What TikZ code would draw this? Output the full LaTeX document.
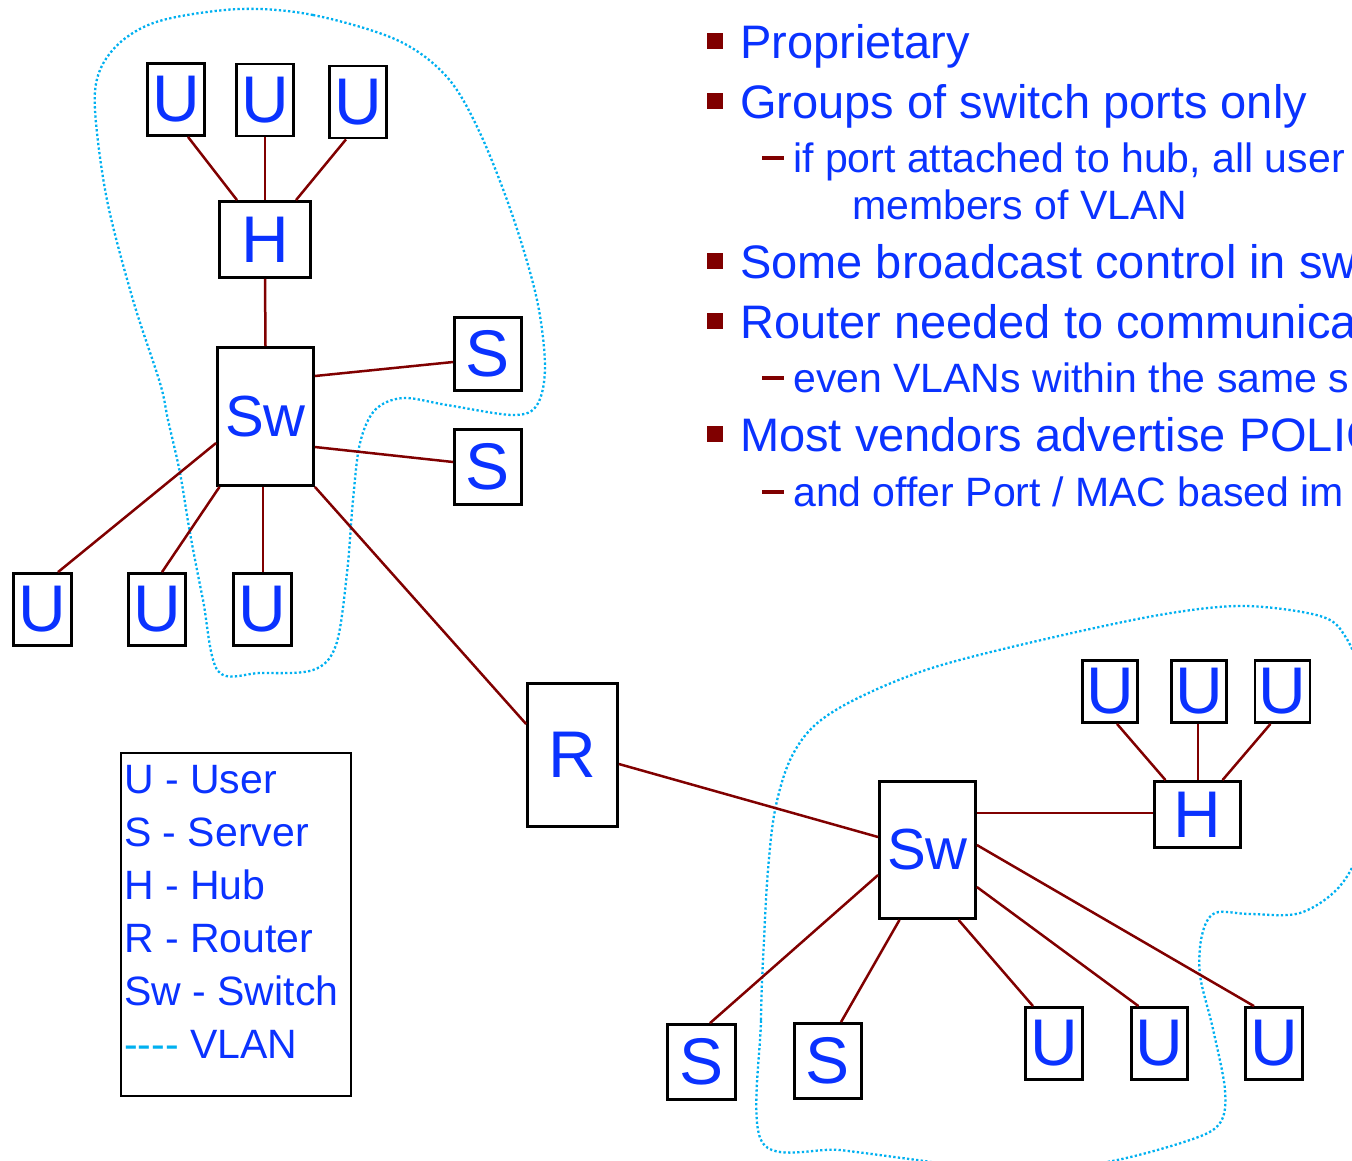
\documentclass[tikz,border=0pt]{standalone}
\usepackage{fontspec}
\setmainfont{Liberation Sans}
\usetikzlibrary{calc}
\definecolor{txtblue}{RGB}{10,50,255}
\definecolor{linkred}{RGB}{128,0,0}
\definecolor{vlancyan}{RGB}{0,176,240}
\tikzset{
  dev/.style 2 args={draw=black, line width=2.8pt, fill=white, inner sep=0pt,
    text=txtblue, minimum width=#1pt, minimum height=#2pt,
    font=\fontsize{66}{66}\selectfont},
  swfont/.style={font=\fontsize{58}{58}\selectfont},
  link/.style={draw=linkred, line width=2.5pt},
  vlan/.style={draw=vlancyan, line width=2.3pt, dash pattern=on 2.3pt off 2.3pt},
  mainitem/.style={anchor=base west, inner sep=0pt, text=txtblue,
    font=\fontsize{47}{47}\selectfont},
  subitem/.style={anchor=base west, inner sep=0pt, text=txtblue,
    font=\fontsize{41}{41}\selectfont},
  legitem/.style={anchor=base west, inner sep=0pt, text=txtblue,
    font=\fontsize{41}{41}\selectfont},
  sqmark/.style={fill=linkred, draw=none, minimum size=16pt, inner sep=0pt},
  dashmark/.style={fill=linkred, draw=none, minimum width=22pt, minimum height=4pt, inner sep=0pt},
}
\begin{document}
\begin{tikzpicture}[x=1pt, y=-1pt]
\useasboundingbox (0,0) rectangle (1352,1160);

% VLAN boundaries
\draw[vlan] plot[smooth cycle, tension=0.55] coordinates {
  (240,9) (313,15) (397,40) (447,77) (480,133) (513,217) (537,300) (545,367)
  (537,405) (513,415) (447,405) (403,398) (375,410) (360,443) (353,500)
  (347,573) (336,645) (313,670) (260,673) (218,671) (203,600) (190,533)
  (180,473) (168,420) (160,383) (133,300) (107,200) (95,110) (100,70)
  (123,40) (163,20)};
\draw[vlan] plot[smooth cycle, tension=0.55] coordinates {
  (762,1142) (761,1020) (764,940) (768,870) (775,810) (790,760) (815,725)
  (860,697) (935,667) (1050,638) (1165,614) (1245,606) (1320,616) (1345,636)
  (1362,680) (1370,760) (1362,840) (1340,886) (1300,913) (1250,914)
  (1215,913) (1202,935) (1200,975) (1213,1029) (1225,1090) (1220,1123)
  (1190,1140) (1107,1162) (1010,1172) (917,1160) (840,1150)};

% first network
\node[dev={57}{72}] (ua) at (176,99.5) {U};
\node[dev={57}{72}] (ub) at (265,100) {U};
\node[dev={57}{72}] (uc) at (358,102) {U};
\node[dev={91}{76}] (ha) at (265,239.5) {H};
\node[dev={96}{138}, swfont] (swa) at (265.5,416.5) {Sw};
\node[dev={67}{73}] (sa) at (488,354) {S};
\node[dev={67}{75}] (sb) at (488,467) {S};
\node[dev={58}{72}] (ud) at (42.5,609.5) {U};
\node[dev={57}{72}] (ue) at (157,609.5) {U};
\node[dev={58}{72}] (uf) at (262.5,609.5) {U};

% router
\node[dev={90}{143}] (rt) at (572.5,755) {R};

% second network
\node[dev={96}{137}, swfont] (swb) at (927.5,850) {Sw};
\node[dev={86}{66}] (hb) at (1197.5,814.5) {H};
\node[dev={55}{62}] (ug) at (1110,691.5) {U};
\node[dev={55}{62}] (uh) at (1199,691.5) {U};
\node[dev={55}{62}] (ui) at (1282.5,691.5) {U};
\node[dev={68}{75}] (sc) at (701.5,1062) {S};
\node[dev={67}{75}] (sd) at (828,1061) {S};
\node[dev={57}{72}] (uj) at (1054,1043.5) {U};
\node[dev={56}{72}] (uk) at (1159.5,1043.5) {U};
\node[dev={57}{72}] (ul) at (1274,1043.5) {U};

% links of the first network
\draw[link] ($(ua.south)+(12,0)$) -- ($(ha.north)+(-28,0)$);
\draw[link] (ub.south) -- (ha.north);
\draw[link] ($(uc.south)+(-12,0)$) -- ($(ha.north)+(31,0)$);
\draw[link] (ha.south) -- (swa.north);
\draw[link] ($(swa.east)+(0,-40.5)$) -- ($(sa.west)+(0,8)$);
\draw[link] ($(swa.east)+(0,30.5)$) -- ($(sb.west)+(0,-5)$);
\draw[link] ($(swa.west)+(0,26.5)$) -- ($(ud.north)+(15.5,0)$);
\draw[link] ($(swa.south)+(-46,0)$) -- ($(ue.north)+(5,0)$);
\draw[link] ($(swa.south)+(-2.5,0)$) -- ($(uf.north)+(0.5,0)$);
\draw[link] (swa.south east) -- ($(rt.west)+(0,-31)$);

% router to second switch
\draw[link] ($(rt.east)+(0,9)$) -- ($(swb.west)+(0,-13)$);

% links of the second network
\draw[link] ($(swb.east)+(0,-37)$) -- ($(hb.west)+(0,-1.5)$);
\draw[link] ($(ug.south)+(7,0)$) -- ($(hb.north)+(-32,0)$);
\draw[link] ($(uh.south)+(-1,0)$) -- ($(hb.north)+(0.5,0)$);
\draw[link] ($(ui.south)+(-12,0)$) -- ($(hb.north)+(25,0)$);
\draw[link] ($(swb.west)+(0,25)$) -- ($(sc.north)+(8.5,0)$);
\draw[link] ($(swb.south)+(-28,0)$) -- ($(sd.north)+(13,0)$);
\draw[link] ($(swb.south)+(31,0)$) -- ($(uj.north)+(-21,0)$);
\draw[link] ($(swb.east)+(0,37)$) -- ($(uk.north)+(-21,0)$);
\draw[link] ($(swb.east)+(0,-5)$) -- ($(ul.north)+(-20,0)$);

% legend
\node[draw=black, line width=1.8pt, minimum width=230pt, minimum height=343pt,
  inner sep=0pt] (leg) at (236,924.5) {};
\node[legitem] (lu) at (124,793) {U - User};
\node[legitem] (ls) at (124,846) {S - Server};
\node[legitem] (lh) at (124,899) {H - Hub};
\node[legitem] (lr) at (124,952) {R - Router};
\node[legitem] (lsw) at (124,1005) {Sw - Switch};
\node[legitem] (lv) at (124,1058) {\textcolor{vlancyan}{-{}-{}-{}-} VLAN};

% bullet list
\node[sqmark] (m1) at (715,41) {};
\node[mainitem] (t1) at (740,58) {Proprietary};
\node[sqmark] (m2) at (715,101) {};
\node[mainitem] (t2) at (740,118) {Groups of switch ports only};
\node[dashmark] (d1) at (773,158) {};
\node[subitem] (t3) at (793,172) {if port attached to hub, all user};
\node[subitem] (t4) at (852,219) {members of VLAN};
\node[sqmark] (m3) at (715,261) {};
\node[mainitem] (t5) at (740,278) {Some broadcast control in sw};
\node[sqmark] (m4) at (715,321) {};
\node[mainitem] (t6) at (740,338) {Router needed to communica};
\node[dashmark] (d2) at (773,378) {};
\node[subitem] (t7) at (793,392) {even VLANs within the same s};
\node[sqmark] (m5) at (715,434) {};
\node[mainitem] (t8) at (740,451) {Most vendors advertise POLIC};
\node[dashmark] (d3) at (773,492) {};
\node[subitem] (t9) at (793,506) {and offer Port / MAC based im};
\end{tikzpicture}
\end{document}
